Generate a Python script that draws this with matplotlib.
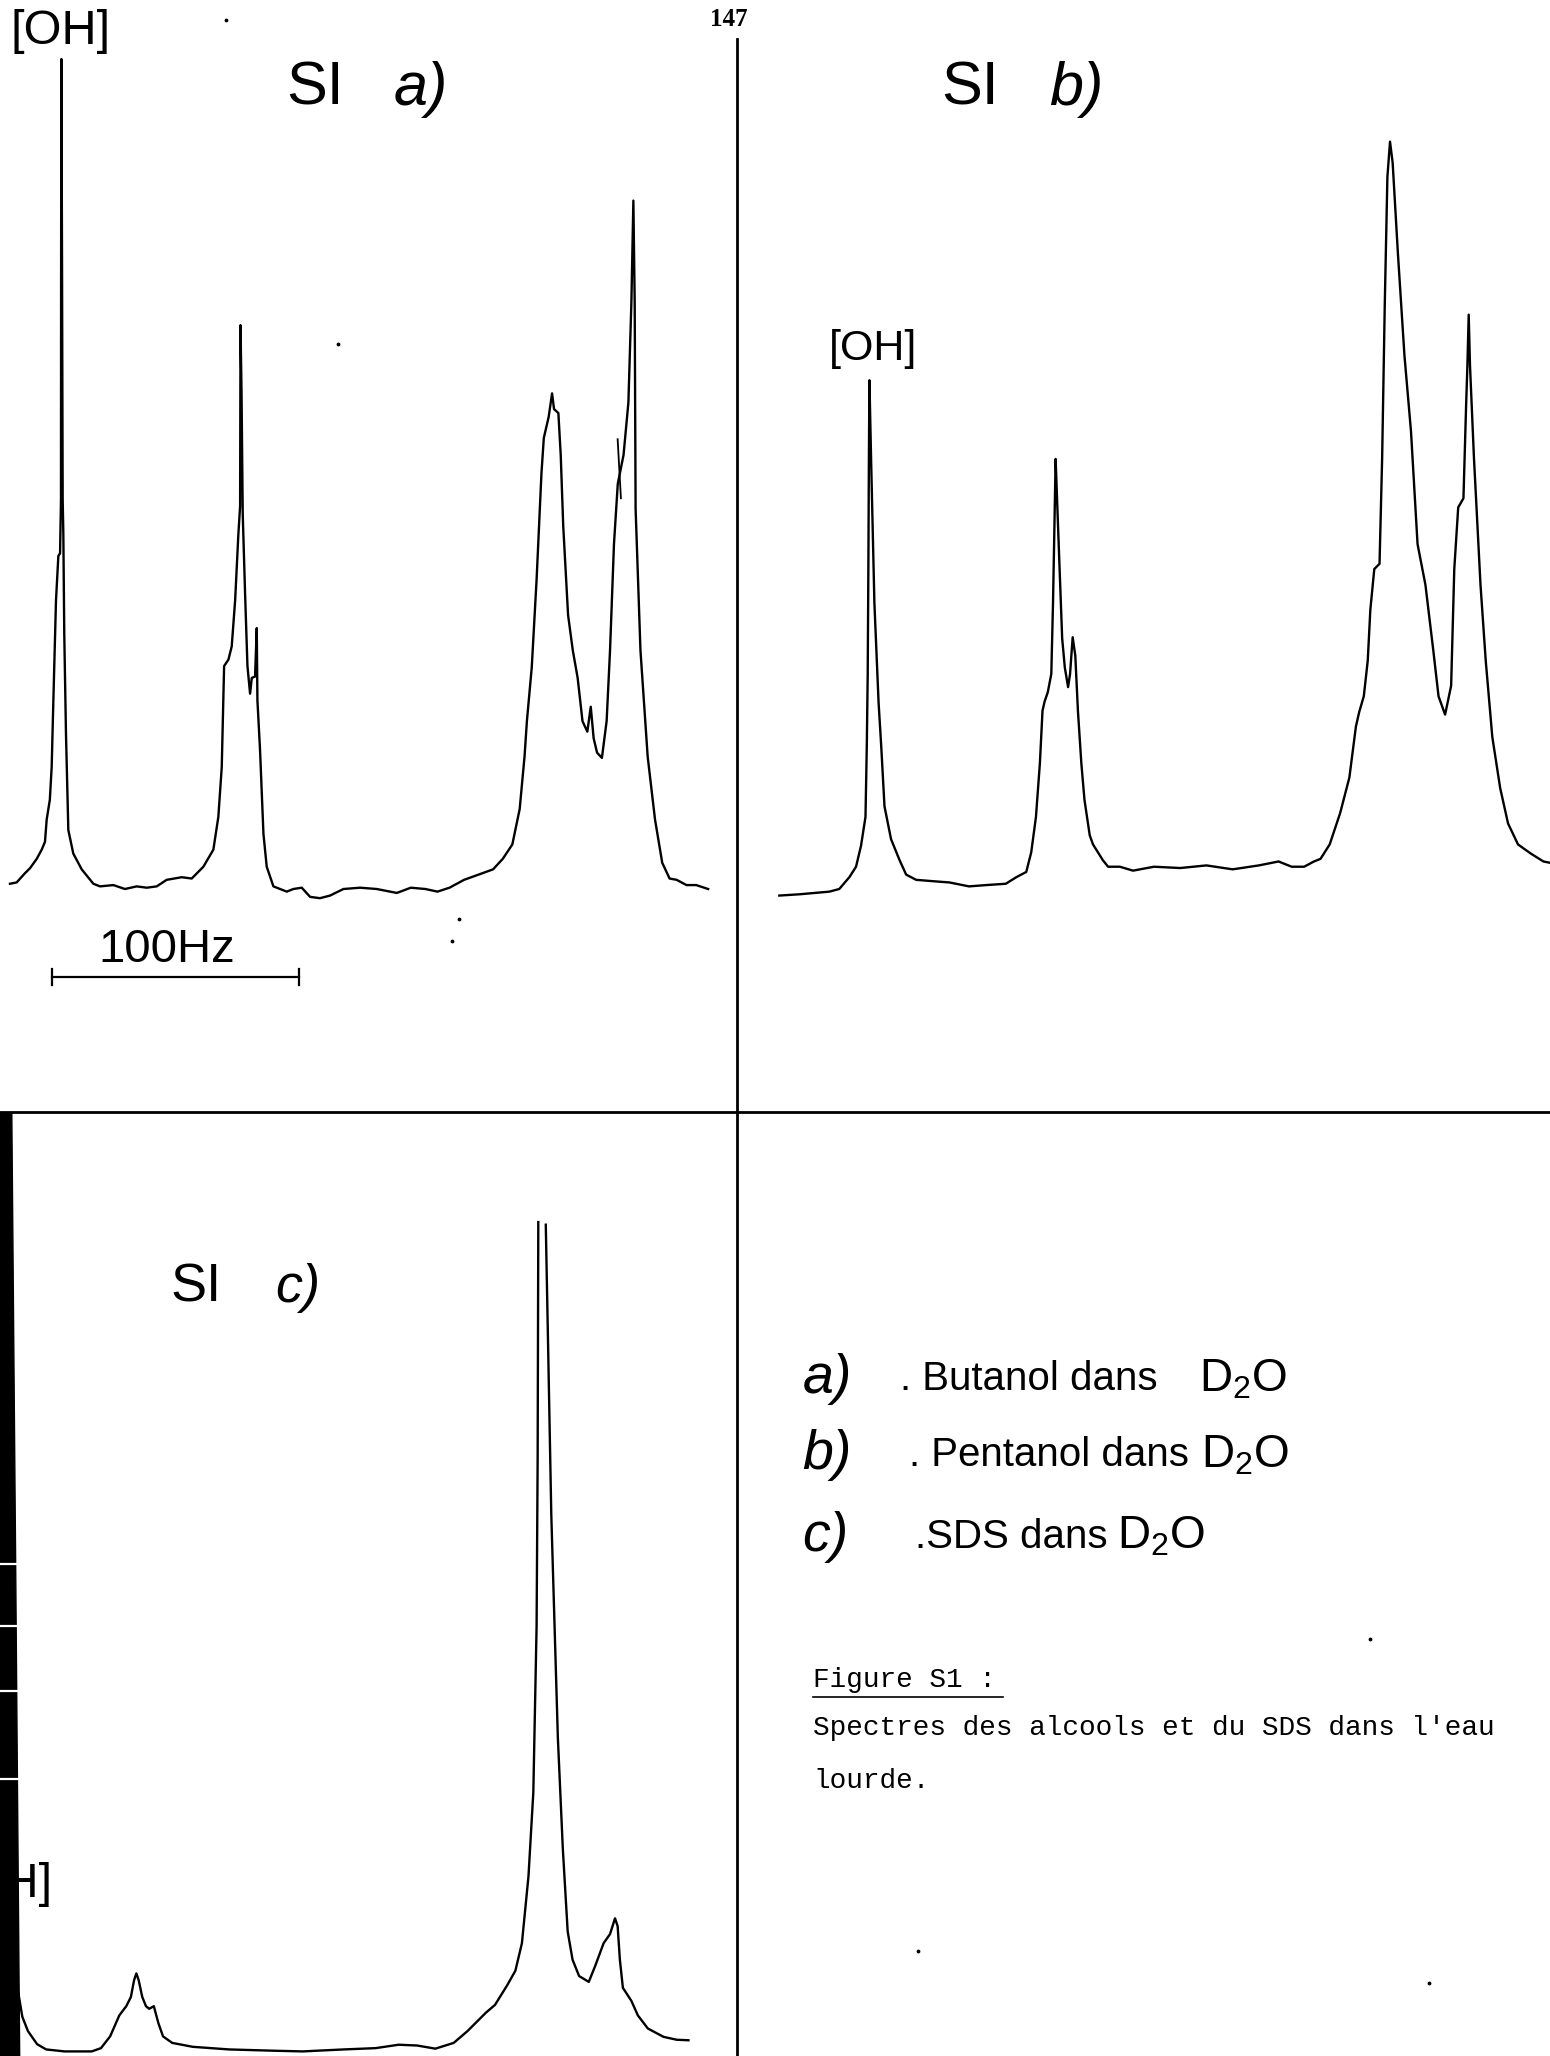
import numpy as np
import matplotlib
matplotlib.use('Agg')
import matplotlib.pyplot as plt
from matplotlib import font_manager

# page size in reference units (chart is drawn on a 1182 x 1568 sheet)
W, H = 1182, 1568

installed = {f.name for f in font_manager.fontManager.ttflist}
narrow = 'Liberation Sans Narrow' if 'Liberation Sans Narrow' in installed else 'Liberation Sans'
mono = 'Liberation Mono' if 'Liberation Mono' in installed else 'DejaVu Sans Mono'
plt.rcParams['mathtext.fontset'] = 'custom'
plt.rcParams['mathtext.rm'] = narrow
plt.rcParams['mathtext.it'] = narrow + ':italic'

# spectrum a) butanol in D2O  (x: chart position, y: pen deflection)
a_x = [7.6, 12.7, 19, 23, 28, 31.8, 34.3, 35.6, 38, 39.4, 40.7, 42.7, 44.5, 45.8, 46.5, 46.6,
       46.8, 47.3, 47.8, 48.3, 49, 50.3, 52.1, 55.9, 62.3, 71.2, 76.3, 86.4, 95.3, 104.2, 111.9,
       119.5, 127.1, 138.6, 146.2, 155.1, 162.7, 166.5, 169.1, 170.9, 174.2, 176.7, 179.3, 181.8,
       183.1, 183.4, 184.2, 185.1, 186.9, 188.7, 190.7, 192, 194.5, 195.8, 196.3, 198.3, 200.9,
       203.4, 208.5, 218.7, 223.7, 230.1, 236.5, 244, 251.7, 261.9, 274.6, 287.3, 302.6, 313.3,
       324.4, 333.6, 342.8, 353.9, 365, 376, 383.4, 390.7, 396.3, 400, 401.8, 405.5, 409.2, 412.9,
       414.7, 418.4, 421, 422.5, 425.8, 427.6, 429.5, 433.2, 436.8, 440.5, 444.2, 447.9, 450.5,
       452.7, 455.3, 459, 462.6, 465.2, 468.2, 471.1, 475.5, 479.2, 481.5, 483, 484, 484.7, 488.4,
       493.9, 499.5, 505, 510.6, 516, 523.5, 530.9, 540]
a_y = [174, 175, 182, 186, 193, 200, 206, 223, 238, 263, 314, 390, 424, 426, 467, 648,
       803, 648, 467, 441, 365, 289, 215, 197, 185, 174, 172, 173, 170, 172, 171,
       172, 177, 179, 178, 187, 200, 225, 263, 340, 345, 355, 390, 441,
       462, 600, 548, 456, 395, 340, 319, 331, 332, 369, 314, 276, 212,
       187, 172, 168, 170, 171, 164, 163, 165, 170, 171, 170, 167, 171,
       170, 168, 171, 177, 181, 185, 193, 204, 231, 271, 298, 339, 406, 487,
       514, 530, 548, 536, 533, 501, 447, 379, 352, 331, 298, 290, 309,
       285, 274, 270, 298, 352, 433, 479, 501, 541, 618, 695, 618, 460, 352,
       271, 223, 190, 178, 177, 173, 173, 170]
a_pen_x = [471, 473.5]
a_pen_y = [513, 468]

# spectrum b) pentanol in D2O
b_x = [594.3, 610, 632.5, 640, 647.7, 652.8, 656.6, 660, 661, 661.7, 662.2, 662.6, 663, 664.3,
       666.8, 670, 672, 674.5, 679.5, 686, 691, 698.6, 711, 724, 739, 752, 767, 775, 782.6, 786.4,
       790, 793, 795, 796.6, 799, 801.7, 803, 804, 805, 806, 808, 810, 812, 814.5, 816, 818, 820,
       822, 824.6, 827, 831, 833.5, 841, 845, 854, 864, 880, 900, 920, 940, 960, 975, 985, 994.5,
       1002, 1007, 1014, 1022, 1029, 1034, 1036.5, 1040, 1043, 1045, 1048, 1052, 1054, 1056, 1058,
       1060, 1062, 1066, 1071, 1076, 1081, 1087, 1093, 1097, 1102, 1106.6, 1109, 1112, 1116, 1118,
       1119, 1120, 1121, 1124, 1129, 1133, 1138, 1144, 1150, 1157.6, 1167.4, 1177, 1182]
b_y = [165, 166, 168, 170, 179, 187, 203, 225, 279, 334, 415, 497, 558, 497,
       388, 312, 279, 233, 208, 192, 181, 177, 176, 175, 172, 173, 174, 179, 183, 198,
       225, 266, 306, 313, 320, 334, 388, 442, 498, 470, 415, 361, 339, 324, 334, 362, 348,
       306, 266, 238, 211, 204, 192, 187, 187, 184, 187, 186, 188, 185, 188, 191, 187, 187,
       191, 193, 204, 228, 255, 294, 305, 317, 344, 383, 414, 418, 499, 616, 713,
       740, 724, 655, 577, 519, 433, 402, 352, 317, 303, 325, 414, 461, 468, 538,
       569, 608, 569, 499, 402, 344, 286, 247, 220, 204, 197, 191, 190]

# spectrum c) SDS in D2O (pen ran off the chart at the top of the main peak)
c_x = [14, 17, 21.3, 28.3, 35.2, 49.2, 63.2, 70, 77, 84, 91, 96.3, 99.8, 102.3, 104, 105.7,
       108.5, 111.3, 113.8, 117.3, 120.8, 124.3, 131.3, 147, 174.8, 209.7, 230.7, 262, 286.5,
       304, 318, 332, 346, 356.5, 370.5, 377.5, 386.8, 393, 398, 403, 406.7, 409.2, 410, 410.5,
       np.nan, 416.2, 418, 420.4, 422.9, 425.4, 429.2, 432.9, 436.6, 441.6, 449, 454, 460.3,
       465.2, 469, 471, 472.7, 475, 481.5, 486.4, 494, 506, 516, 525]
c_y = [48, 30, 19, 9, 5, 3.5, 3.5, 3.5, 6, 15, 31, 38, 45, 58, 63, 58,
       45, 38, 36, 38, 25, 15, 10, 7, 5, 4, 3.5, 5, 6,
       8.6, 8, 5.6, 10, 19, 33, 39, 54, 65, 86, 137, 201, 328, 456, 636,
       np.nan, 634, 540, 413, 328, 243, 158, 95, 73.5, 61, 56.5, 69, 86,
       93, 105, 99, 73.5, 52, 42, 31, 21, 14.6, 12.4, 12]

legend_keys = ['a)', 'b)', 'c)']
legend_names = ['. Butanol dans', '. Pentanol dans', '.SDS dans']
legend_solvent = ['D$_2$O', 'D$_2$O', 'D$_2$O']
caption_title = 'Figure S1'
caption_lines = ["Spectres des alcools et du SDS dans l'eau", 'lourde.']

scale_hz = 100
units_per_hz = 1.88

fig = plt.figure(figsize=(15.5, 20.56), dpi=100)


def page_axes(x0, y0, x1, y1):
    ax = fig.add_axes([x0 / W, 1 - y1 / H, (x1 - x0) / W, (y1 - y0) / H])
    ax.axis('off')
    return ax


lw = 1.7
ax_a = page_axes(0, 0, 562, 848)
ax_a.set_xlim(0, 562)
ax_a.set_ylim(0, 848)
ax_a.plot(a_x, a_y, color='k', lw=lw)
ax_a.plot(a_pen_x, a_pen_y, color='k', lw=1.3)
# 100 Hz scale bar
bar_x0, bar_y = 40, 103
bar_x1 = bar_x0 + scale_hz * units_per_hz
ax_a.plot([bar_x0, bar_x1], [bar_y, bar_y], color='k', lw=1.6)
ax_a.plot([bar_x0, bar_x0], [bar_y - 6, bar_y + 6], color='k', lw=1.6)
ax_a.plot([bar_x1, bar_x1], [bar_y - 6, bar_y + 6], color='k', lw=1.6)
ax_a.text((bar_x0 + bar_x1) / 2 - 7, bar_y + 4, '100Hz', fontsize=34, family=narrow,
          ha='center', va='bottom')

ax_b = page_axes(562, 0, 1182, 848)
ax_b.set_xlim(562, 1182)
ax_b.set_ylim(0, 848)
ax_b.plot(b_x, b_y, color='k', lw=lw)

ax_c = page_axes(0, 848, 562, 1568)
ax_c.set_xlim(0, 562)
ax_c.set_ylim(0, 720)
ax_c.plot(c_x, c_y, color='k', lw=lw)

# page overlay: dividers, labels, scan edge
pg = fig.add_axes([0, 0, 1, 1], zorder=5)
pg.set_xlim(0, W)
pg.set_ylim(H, 0)
pg.axis('off')
pg.patch.set_visible(False)

pg.plot([562, 562], [30, H], color='k', lw=2.0)
pg.plot([0, W], [848, 848], color='k', lw=2.0)

pg.text(556, 15, '147', fontsize=18, family='Liberation Serif', weight='bold',
        ha='center', va='center')
pg.text(8, 24, '[OH]', fontsize=35, family=narrow, ha='left', va='center')
pg.text(632, 266, '[OH]', fontsize=31, family=narrow, ha='left', va='center')
pg.text(40, 1437, '[OH]', fontsize=35, family=narrow, ha='right', va='center')

pg.text(218, 68, 'SI', fontsize=44, family=narrow, ha='left', va='center')
pg.text(300, 68, 'a)', fontsize=44, family=narrow, style='italic', ha='left', va='center')
pg.text(718, 68, 'SI', fontsize=44, family=narrow, ha='left', va='center')
pg.text(800, 68, 'b)', fontsize=44, family=narrow, style='italic', ha='left', va='center')
pg.text(130, 982, 'SI', fontsize=39, family=narrow, ha='left', va='center')
pg.text(210, 982, 'c)', fontsize=39, family=narrow, style='italic', ha='left', va='center')

legend_rows = [1052, 1110, 1172]
name_x = [686, 693, 698]
solvent_x = [914, 916, 852]
for key, name, solv, yy, nx, sx in zip(legend_keys, legend_names, legend_solvent,
                                       legend_rows, name_x, solvent_x):
    pg.text(612, yy, key, fontsize=40, family=narrow, style='italic', ha='left', va='center')
    pg.text(nx, yy, name, fontsize=29, family=narrow, ha='left', va='center')
    pg.text(sx, yy, solv, fontsize=33, family=narrow, ha='left', va='center')

pg.text(620, 1281, caption_title + ' :', fontsize=20, family=mono, ha='left', va='center')
pg.plot([620, 765], [1294, 1294], color='k', lw=1.2)
for i, line in enumerate(caption_lines):
    pg.text(620, 1318 + 40 * i, line, fontsize=20, family=mono, ha='left', va='center')

# dark scanner edge on the lower left
edge = plt.Polygon([(0, 849), (9, 849), (12, 1200), (15, H), (0, H)], closed=True,
                   color='k', zorder=6)
pg.add_patch(edge)
for yy in [1193, 1240, 1290, 1357]:
    pg.plot([0, 16], [yy, yy], color='white', lw=1.6, zorder=7)

# small specks of the scan
specks_x = [172, 258, 350, 345, 700, 1090, 1045]
specks_y = [15, 262, 701, 718, 1488, 1512, 1250]
pg.scatter(specks_x, specks_y, s=3, color='k', zorder=6)

fig.savefig('out.png', dpi=100, facecolor='white')
